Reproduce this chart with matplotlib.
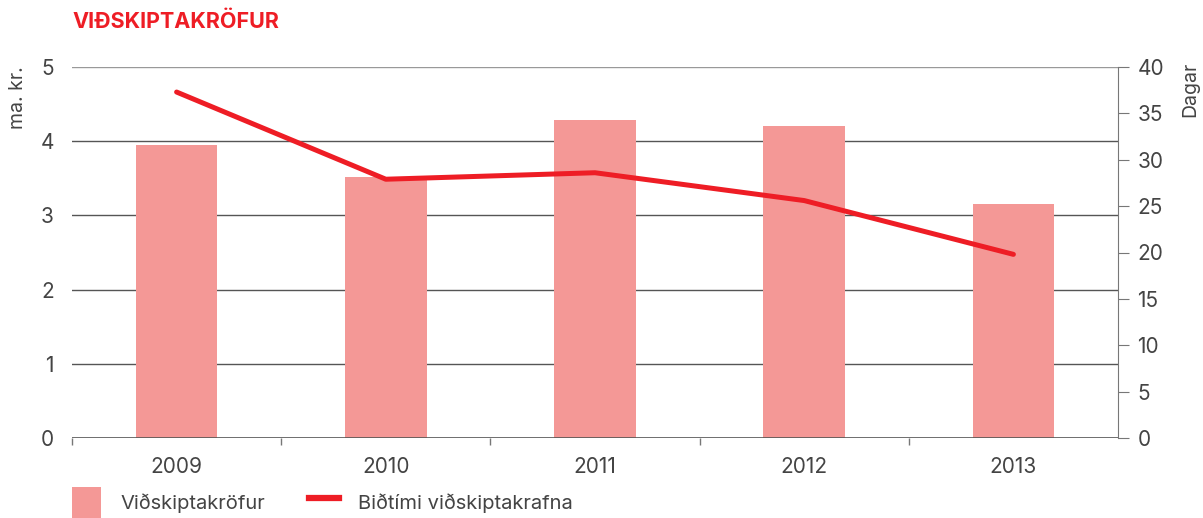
import matplotlib
matplotlib.use("Agg")
import matplotlib.pyplot as plt
from matplotlib.patches import Patch
from matplotlib.lines import Line2D

# ── Data ──────────────────────────────────────────────────────────────────────
years = ["2009", "2010", "2011", "2012", "2013"]
receivables = [3.95, 3.52, 4.29, 4.20, 3.15]      # ma. kr.
wait_days = [37.3, 27.9, 28.6, 25.6, 19.8]         # Dagar

BAR_COLOR = "#F49896"
LINE_COLOR = "#EE1D25"
TEXT_COLOR = "#444444"

plt.rcParams["font.family"] = ["Inter", "DejaVu Sans"]

fig = plt.figure(figsize=(12.03, 5.18), dpi=100)
ax = fig.add_axes([72 / 1203, 1 - 438 / 518, (1118 - 72) / 1203, (438 - 67) / 518])
ax2 = ax.twinx()

x = list(range(len(years)))
ax.bar(x, receivables, width=0.39, color=BAR_COLOR, zorder=2)
ax2.plot(x, wait_days, color=LINE_COLOR, lw=3.6, solid_capstyle="round", zorder=3)

ax.set_xlim(-0.5, len(years) - 0.5)
ax.set_ylim(0, 5)
ax2.set_ylim(0, 40)

# grid lines on left scale
for v in range(1, 6):
    ax.axhline(v, color="#999999" if v == 5 else "#555555", lw=1.0, zorder=1)
ax.axhline(0, color="#555555", lw=1.2, zorder=4)

for s in ["top", "left", "right", "bottom"]:
    ax.spines[s].set_visible(False)
    ax2.spines[s].set_visible(False)
ax2.spines["right"].set_visible(True)
ax2.spines["right"].set_color("#777777")

ax.set_yticks(range(0, 6))
ax.tick_params(axis="y", length=0, pad=13, labelsize=15, labelcolor=TEXT_COLOR)

ax.set_xticks(x)
ax.set_xticklabels(years)
ax.tick_params(axis="x", which="major", length=0, pad=14, labelsize=15, labelcolor=TEXT_COLOR)
ax.set_xticks([i - 0.5 for i in range(len(years))], minor=True)
ax.tick_params(axis="x", which="minor", length=5, color="#777777", width=1)

ax2.set_yticks(range(0, 45, 5))
ax2.tick_params(axis="y", length=8, color="#777777", pad=6, labelsize=15, labelcolor=TEXT_COLOR)

fig.text(18 / 1203, 1 - 66 / 518, "ma. kr.", rotation=90, ha="center", va="top",
         fontsize=14, color=TEXT_COLOR)
fig.text(1190 / 1203, 1 - 62 / 518, "Dagar", rotation=90, ha="center", va="top",
         fontsize=14, color=TEXT_COLOR)

fig.text(72 / 1203, 1 - 22 / 518, "VIÐSKIPTAKRÖFUR", ha="left", va="center",
         fontsize=15.5, fontweight="bold", color=LINE_COLOR)

handles = [Patch(facecolor=BAR_COLOR, edgecolor="none"),
           Line2D([0], [0], color=LINE_COLOR, lw=4.5)]
labels = ["Viðskiptakröfur", "Biðtími viðskiptakrafna"]
fig.legend(handles, labels, loc="lower left", bbox_to_anchor=(72 / 1203, 0.0),
           ncol=2, frameon=False, fontsize=14.5, labelcolor=TEXT_COLOR,
           borderpad=0, borderaxespad=0.0,
           handlelength=1.45, handleheight=2.0, handletextpad=0.95, columnspacing=2.2)

fig.savefig("out.png", dpi=100)
